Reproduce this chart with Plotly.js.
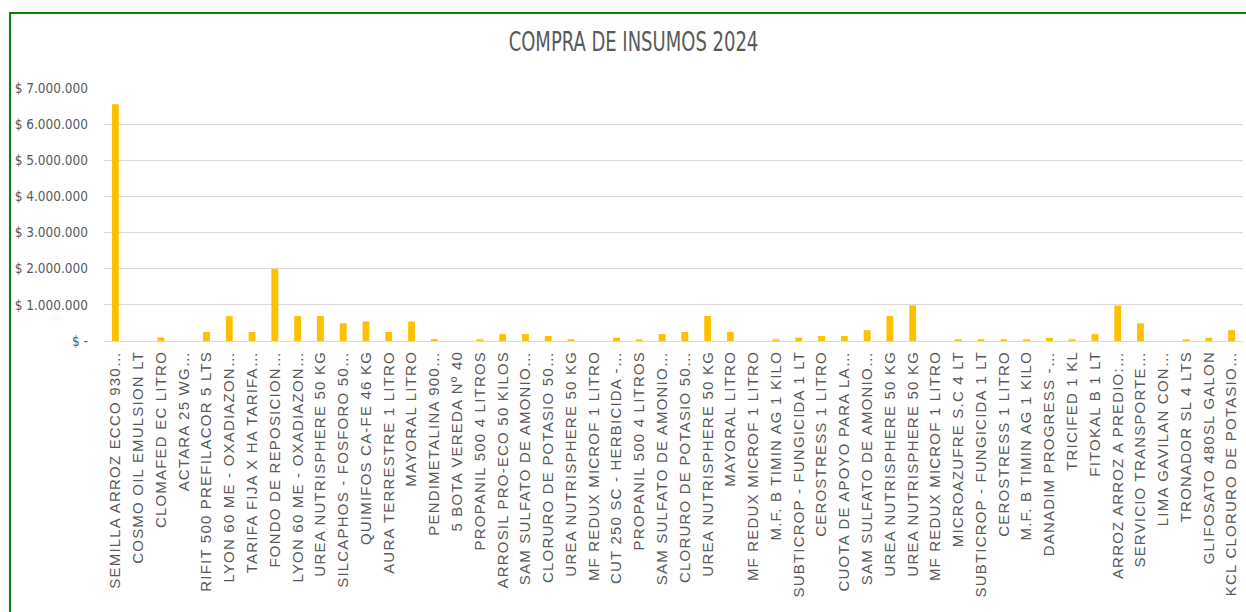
<!DOCTYPE html>
<html>
<head>
<meta charset="utf-8">
<script src="https://cdn.plot.ly/plotly-3.0.1.min.js"></script>
<style>
  html, body { margin: 0; padding: 0; background: #ffffff; overflow: hidden; }
  #wrap { position: relative; width: 1246px; height: 612px; }
  #chart { position: absolute; left: 0; top: 0; width: 1246px; height: 612px; }
  #frame { position: absolute; left: 9px; top: 12px; width: 1300px; height: 700px;
           border-left: 2px solid #0a800a; border-top: 2px solid #0a800a;
           pointer-events: none; z-index: 10; }
  .xtick text { letter-spacing: 1.2px; }
  .gtitle { transform-box: fill-box; transform-origin: center; transform: scaleY(1.3); }
</style>
</head>
<body>
<div id="wrap">
  <div id="chart"></div>
  <div id="frame"></div>
</div>
<script>
const categories = [
  "SEMILLA ARROZ ECCO 930…", "COSMO OIL EMULSION LT", "CLOMAFED EC LITRO", "ACTARA 25 WG…",
  "RIFIT 500 PREFILACOR 5 LTS", "LYON 60 ME - OXADIAZON…", "TARIFA FIJA X HA TARIFA…",
  "FONDO DE REPOSICION…", "LYON 60 ME - OXADIAZON…", "UREA NUTRISPHERE 50 KG",
  "SILCAPHOS - FOSFORO 50…", "QUIMIFOS CA-FE 46 KG", "AURA TERRESTRE 1 LITRO", "MAYORAL LITRO",
  "PENDIMETALINA 900…", "5 BOTA VEREDA Nº 40", "PROPANIL 500 4 LITROS", "ARROSIL PRO-ECO 50 KILOS",
  "SAM SULFATO DE AMONIO…", "CLORURO DE POTASIO 50…", "UREA NUTRISPHERE 50 KG",
  "MF REDUX MICROF 1 LITRO", "CUT 250 SC - HERBICIDA -…", "PROPANIL 500 4 LITROS",
  "SAM SULFATO DE AMONIO…", "CLORURO DE POTASIO 50…", "UREA NUTRISPHERE 50 KG", "MAYORAL LITRO",
  "MF REDUX MICROF 1 LITRO", "M.F. B TIMIN AG 1 KILO", "SUBTICROP - FUNGICIDA 1 LT",
  "CEROSTRESS 1 LITRO", "CUOTA DE APOYO PARA LA…", "SAM SULFATO DE AMONIO…",
  "UREA NUTRISPHERE 50 KG", "UREA NUTRISPHERE 50 KG", "MF REDUX MICROF 1 LITRO",
  "MICROAZUFRE S.C 4 LT", "SUBTICROP - FUNGICIDA 1 LT", "CEROSTRESS 1 LITRO",
  "M.F. B TIMIN AG 1 KILO", "DANADIM PROGRESS -…", "TRICIFED 1 KL", "FITOKAL B 1 LT",
  "ARROZ ARROZ A PREDIO:…", "SERVICIO TRANSPORTE…", "LIMA GAVILAN CON…", "TRONADOR SL 4 LTS",
  "GLIFOSATO 480SL GALON", "KCL CLORURO DE POTASIO…"
];

const compras = [
  6550000, 0, 100000, 0, 250000, 690000, 250000, 2000000, 690000, 690000,
  490000, 540000, 250000, 540000, 50000, 0, 45000, 190000, 190000, 140000,
  45000, 0, 90000, 45000, 190000, 250000, 690000, 250000, 0, 45000,
  90000, 140000, 140000, 300000, 690000, 985000, 0, 45000, 45000, 45000,
  45000, 90000, 45000, 190000, 985000, 490000, 0, 45000, 90000, 300000
];

const yTickValues = [0, 1000000, 2000000, 3000000, 4000000, 5000000, 6000000, 7000000];
const yTickLabels = ["$ -", "$ 1.000.000", "$ 2.000.000", "$ 3.000.000", "$ 4.000.000",
                     "$ 5.000.000", "$ 6.000.000", "$ 7.000.000"];

const idx = categories.map((_, i) => i);

const trace = {
  type: "bar",
  x: idx,
  y: compras,
  marker: { color: "#FFC000" },
  hoverinfo: "skip"
};

const narrow = "Liberation Sans Narrow, DejaVu Sans Condensed, Roboto Condensed, Arial Narrow, sans-serif";

const layout = {
  width: 1246,
  height: 612,
  margin: { l: 104, r: 3, t: 88, b: 271, pad: 0 },
  paper_bgcolor: "#ffffff",
  plot_bgcolor: "#ffffff",
  showlegend: false,
  bargap: 0.7,
  title: {
    text: "COMPRA DE INSUMOS 2024",
    font: { family: narrow, size: 20, color: "#595959" },
    xref: "container", yref: "container",
    x: 0.5084, y: 0.931, xanchor: "center", yanchor: "middle"
  },
  xaxis: {
    type: "linear",
    range: [-0.5, categories.length - 0.5],
    tickmode: "array",
    tickvals: idx,
    ticktext: categories,
    tickangle: -90,
    tickfont: { family: "Liberation Sans, Arial, sans-serif", size: 15, color: "#595959" },
    showgrid: false,
    zeroline: false,
    showline: false,
    ticks: "",
    ticklabelstandoff: 6,
    fixedrange: true
  },
  yaxis: {
    range: [0, 7000000],
    tickmode: "array",
    tickvals: yTickValues,
    ticktext: yTickLabels,
    tickfont: { family: narrow, size: 13.5, color: "#595959" },
    showgrid: true,
    gridcolor: "#d9d9d9",
    gridwidth: 1,
    zeroline: true,
    zerolinecolor: "#d9d9d9",
    zerolinewidth: 1,
    showline: false,
    ticks: "",
    ticklabelstandoff: 15,
    fixedrange: true
  }
};

Plotly.newPlot("chart", [trace], layout, { displayModeBar: false, staticPlot: true });
</script>
</body>
</html>
